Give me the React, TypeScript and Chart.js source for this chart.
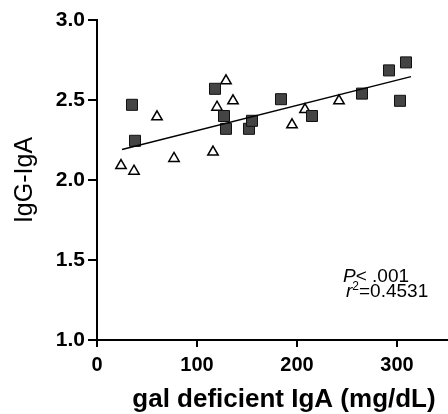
import React, { useEffect, useRef } from "react";
import { Chart, registerables } from "chart.js";

Chart.register(...registerables);

const squareX = [35, 38, 118, 127, 129, 152, 155, 184, 215, 265, 292, 303, 309];
const squareY = [2.47, 2.245, 2.57, 2.4, 2.32, 2.32, 2.37, 2.505, 2.4, 2.54, 2.685, 2.495, 2.735];
const triX = [24, 37, 60, 77, 116, 120, 129, 136, 195, 208, 242];
const triY = [2.09, 2.055, 2.395, 2.135, 2.175, 2.455, 2.62, 2.495, 2.345, 2.44, 2.495];
const fitX = [25, 314];
const fitY = [2.19, 2.646];
const xTicks = [0, 100, 200, 300];
const yTicks = [1.0, 1.5, 2.0, 2.5, 3.0];
const xTitle = "gal deficient IgA (mg/dL)";
const yTitle = "IgG-IgA";

const FONT = "'Liberation Sans', Arial, sans-serif";

const annotationPlugin = {
  id: "annot",
  afterDraw(chart: any) {
    const ctx = chart.ctx;
    ctx.save();
    ctx.fillStyle = "#000";
    ctx.textBaseline = "alphabetic";
    ctx.textAlign = "left";
    ctx.font = `italic 19px ${FONT}`;
    ctx.fillText("P", 343, 282);
    let w = ctx.measureText("P").width;
    ctx.font = `19px ${FONT}`;
    ctx.fillText("< .001", 343 + w, 282);
    ctx.font = `italic 19px ${FONT}`;
    ctx.fillText("r", 346, 297);
    w = ctx.measureText("r").width;
    ctx.font = `12px ${FONT}`;
    ctx.fillText("2", 346 + w, 290);
    const w2 = ctx.measureText("2").width;
    ctx.font = `19px ${FONT}`;
    ctx.fillText("=0.4531", 346 + w + w2, 297);
    // x-axis title
    ctx.textAlign = "center";
    ctx.font = `bold 26px ${FONT}`;
    ctx.fillText(xTitle, 284, 407);
    ctx.restore();
  },
};

export default function App() {
  const ref = useRef<HTMLCanvasElement>(null);
  useEffect(() => {
    document.body.style.margin = "0";
    const chart = new Chart(ref.current!, {
      type: "scatter",
      data: {
        datasets: [
          {
            type: "line",
            data: fitX.map((x, i) => ({ x, y: fitY[i] })),
            borderColor: "#000",
            borderWidth: 1.5,
            pointRadius: 0,
            fill: false,
          } as any,
          {
            data: squareX.map((x, i) => ({ x, y: squareY[i] })),
            pointStyle: "rect",
            pointRadius: 7.8,
            backgroundColor: "#444",
            borderColor: "#111",
            borderWidth: 1,
          },
          {
            data: triX.map((x, i) => ({ x, y: triY[i] })),
            pointStyle: "triangle",
            pointRadius: 6,
            backgroundColor: "#fff",
            borderColor: "#000",
            borderWidth: 1.5,
          },
        ],
      },
      options: {
        animation: false,
        responsive: false,
        layout: { autoPadding: false, padding: { top: 20, right: 1, left: 0, bottom: 0 } },
        plugins: { legend: { display: false }, tooltip: { enabled: false } },
        scales: {
          x: {
            type: "linear",
            min: 0,
            max: 350,
            afterBuildTicks: (s: any) => {
              s.ticks = xTicks.map((v) => ({ value: v }));
            },
            afterFit: (s: any) => {
              s.height = 74;
              s.paddingLeft = 0;
              s.paddingRight = 0;
            },
            grid: { drawOnChartArea: false, drawTicks: true, tickLength: 7, color: "#000", lineWidth: 2 },
            border: { color: "#000", width: 2 },
            ticks: {
              color: "#000",
              font: { family: FONT, size: 20, weight: "bold" },
              padding: 6,
              maxRotation: 0,
            },
          },
          y: {
            type: "linear",
            min: 1,
            max: 3,
            afterBuildTicks: (s: any) => {
              s.ticks = yTicks.map((v) => ({ value: v }));
            },
            afterFit: (s: any) => {
              s.width = 97;
              s.paddingTop = 0;
              s.paddingBottom = 0;
            },
            grid: { drawOnChartArea: false, drawTicks: true, tickLength: 9, color: "#000", lineWidth: 2 },
            border: { color: "#000", width: 2 },
            ticks: {
              color: "#000",
              font: { family: FONT, size: 21, weight: "bold" },
              padding: 3,
              callback: (v: any) => Number(v).toFixed(1),
            },
            title: {
              display: true,
              text: yTitle,
              color: "#000",
              font: { family: FONT, size: 25, weight: "normal" },
              padding: { top: 10, bottom: 4 },
            },
          },
        },
      },
      plugins: [annotationPlugin],
    });
    return () => chart.destroy();
  }, []);
  return <canvas ref={ref} width={448} height={414} style={{ display: "block" }} />;
}
